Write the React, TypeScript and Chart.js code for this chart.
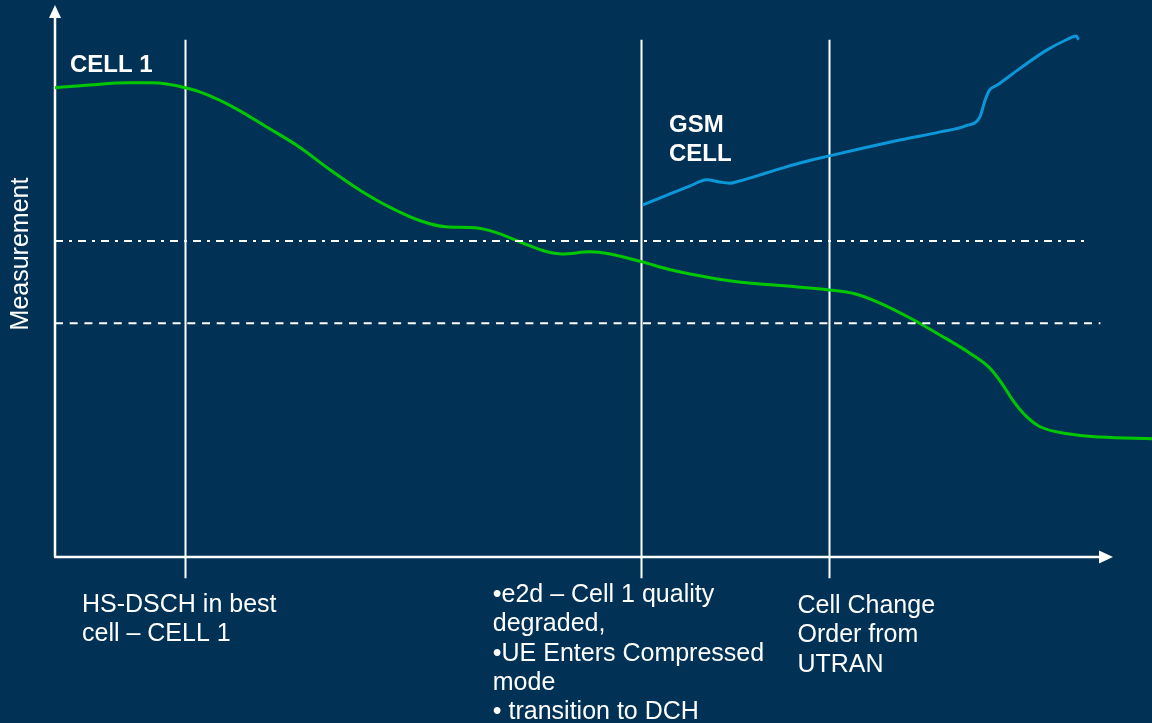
import React, { useEffect, useRef } from "react";
import { Chart, registerables } from "chart.js";

Chart.register(...registerables);

// Time runs 0..100 along x, measurement 0..100 along y.
const cell1X = [0, 3.2, 6.6, 8.9, 11.9, 13.5, 16.2, 19.3, 22.3, 25.1, 27.8, 30.5, 33.3, 35.6, 38.3, 40.1, 42.4, 44.7, 46.2, 48.8, 50.6, 53.6, 56.1, 58.5, 61.8, 67.9, 70.6, 72.9, 75.2, 77.9, 80.7, 83.4, 85.2, 86.4, 87.3, 88.6, 89.8, 92.3, 95.3, 100];
const cell1Y = [86.1, 86.6, 87.0, 87.0, 86.1, 85.1, 82.6, 78.9, 75.2, 71.0, 67.3, 64.2, 61.7, 60.6, 60.4, 59.6, 57.8, 56.1, 55.6, 56.0, 55.6, 54.1, 52.7, 51.7, 50.6, 49.5, 49.0, 48.3, 46.6, 43.9, 40.7, 37.4, 34.7, 31.6, 28.8, 25.7, 23.9, 22.6, 22.0, 21.7];

const gsmX = [53.6, 55.8, 57.9, 59.4, 60.6, 61.5, 62.4, 64.9, 67.9, 70.6, 73.4, 77.0, 80.7, 83.0, 84.3, 84.8, 85.2, 85.9, 88.0, 90.4, 92.3, 93.1, 93.3];
const gsmY = [64.6, 66.4, 68.1, 69.2, 68.8, 68.6, 69.0, 70.5, 72.3, 73.6, 74.9, 76.5, 78.0, 79.1, 80.7, 83.9, 85.7, 86.6, 89.7, 93.0, 95.0, 95.6, 94.9];

// Threshold levels (upper: dash-dot, lower: dashed)
const upperThreshold = 58.0;
const upperThresholdEnd = 94.3;
const lowerThreshold = 42.9;
const lowerThresholdEnd = 95.3;

// Event instants marked by vertical lines, and their captions
const eventX = [11.85, 53.4, 70.6];
const eventTop = 94.9;
const eventBottom = -3.9;
const eventCaptions: string[][] = [
  ["HS-DSCH in best", "cell \u2013 CELL 1"],
  ["\u2022e2d \u2013 Cell 1 quality", "degraded,", "\u2022UE Enters Compressed", "mode", "\u2022 transition to DCH"],
  ["Cell Change", "Order from", "UTRAN"],
];
const captionOffsets = [-103, -148, -32];
const captionBaselines = [612, 602, 613];

const BG = "#013256";
const FONT = '"Liberation Sans", Arial, sans-serif';

const toPoints = (xs: number[], ys: number[]) => xs.map((x, i) => ({ x, y: ys[i] }));

const decorations = {
  id: "decorations",
  beforeDraw(chart: any) {
    const { ctx, width, height } = chart;
    ctx.save();
    ctx.fillStyle = BG;
    ctx.fillRect(0, 0, width, height);
    ctx.restore();
  },
  beforeDatasetsDraw(chart: any) {
    const { ctx } = chart;
    const xs = chart.scales.x;
    const ys = chart.scales.y;
    ctx.save();
    ctx.strokeStyle = "#ffffff";
    ctx.fillStyle = "#ffffff";
    ctx.lineWidth = 2;

    // event lines
    eventX.forEach((ex) => {
      const px = Math.round(xs.getPixelForValue(ex)) + 0.5;
      ctx.beginPath();
      ctx.moveTo(px, ys.getPixelForValue(eventTop));
      ctx.lineTo(px, ys.getPixelForValue(eventBottom));
      ctx.stroke();
    });

    // axes with arrowheads
    const ox = xs.getPixelForValue(0);
    const oy = ys.getPixelForValue(0);
    ctx.lineWidth = 2.5;
    ctx.beginPath();
    ctx.moveTo(ox, oy);
    ctx.lineTo(ox, 17);
    ctx.moveTo(ox - 1, oy);
    ctx.lineTo(1100, oy);
    ctx.stroke();
    ctx.beginPath();
    ctx.moveTo(ox, 5);
    ctx.lineTo(ox - 6, 18);
    ctx.lineTo(ox + 6, 18);
    ctx.closePath();
    ctx.fill();
    ctx.beginPath();
    ctx.moveTo(1113, oy);
    ctx.lineTo(1099, oy - 6.5);
    ctx.lineTo(1099, oy + 6.5);
    ctx.closePath();
    ctx.fill();
    ctx.restore();
  },
  afterDraw(chart: any) {
    const { ctx } = chart;
    const xs = chart.scales.x;
    ctx.save();
    ctx.fillStyle = "#ffffff";
    ctx.textBaseline = "alphabetic";
    ctx.textAlign = "left";

    ctx.font = `bold 24px ${FONT}`;
    ctx.fillText("CELL 1", 70, 72);
    ctx.fillText("GSM", 669, 132);
    ctx.fillText("CELL", 669, 161);

    ctx.font = `25px ${FONT}`;
    eventCaptions.forEach((lines, i) => {
      const px = xs.getPixelForValue(eventX[i]) + captionOffsets[i];
      lines.forEach((line, j) => {
        ctx.fillText(line, px, captionBaselines[i] + j * 29.3);
      });
    });

    ctx.translate(28, 254);
    ctx.rotate(-Math.PI / 2);
    ctx.textAlign = "center";
    ctx.fillText("Measurement", 0, 0);
    ctx.restore();
  },
};

export default function App() {
  const ref = useRef<HTMLCanvasElement>(null);

  useEffect(() => {
    document.body.style.margin = "0";
    const canvas = ref.current;
    if (!canvas) return;
    const chart = new Chart(canvas, {
      type: "line",
      data: {
        datasets: [
          {
            label: "Upper threshold",
            data: [
              { x: 0, y: upperThreshold },
              { x: upperThresholdEnd, y: upperThreshold },
            ],
            borderColor: "#ffffff",
            borderWidth: 2,
            borderDash: [8, 6, 3, 6],
            pointRadius: 0,
          },
          {
            label: "Lower threshold",
            data: [
              { x: 0, y: lowerThreshold },
              { x: lowerThresholdEnd, y: lowerThreshold },
            ],
            borderColor: "#ffffff",
            borderWidth: 2,
            borderDash: [8, 6.7],
            pointRadius: 0,
          },
          {
            label: "CELL 1",
            data: toPoints(cell1X, cell1Y),
            borderColor: "#00C800",
            borderWidth: 3,
            pointRadius: 0,
            cubicInterpolationMode: "monotone",
          },
          {
            label: "GSM CELL",
            data: toPoints(gsmX, gsmY),
            borderColor: "#0C97D8",
            borderWidth: 3,
            pointRadius: 0,
            cubicInterpolationMode: "monotone",
          },
        ],
      },
      options: {
        responsive: false,
        animation: false,
        clip: false as any,
        layout: { padding: { left: 55, right: 0, top: 12, bottom: 166 } },
        scales: {
          x: { type: "linear", min: 0, max: 100, display: false },
          y: { type: "linear", min: 0, max: 100, display: false },
        },
        plugins: { legend: { display: false }, tooltip: { enabled: false } },
      },
      plugins: [decorations],
    });
    return () => chart.destroy();
  }, []);

  return (
    <div style={{ position: "fixed", left: 0, top: 0, width: 1152, height: 723, background: BG }}>
      <canvas ref={ref} width={1152} height={723} style={{ display: "block" }} />
    </div>
  );
}
